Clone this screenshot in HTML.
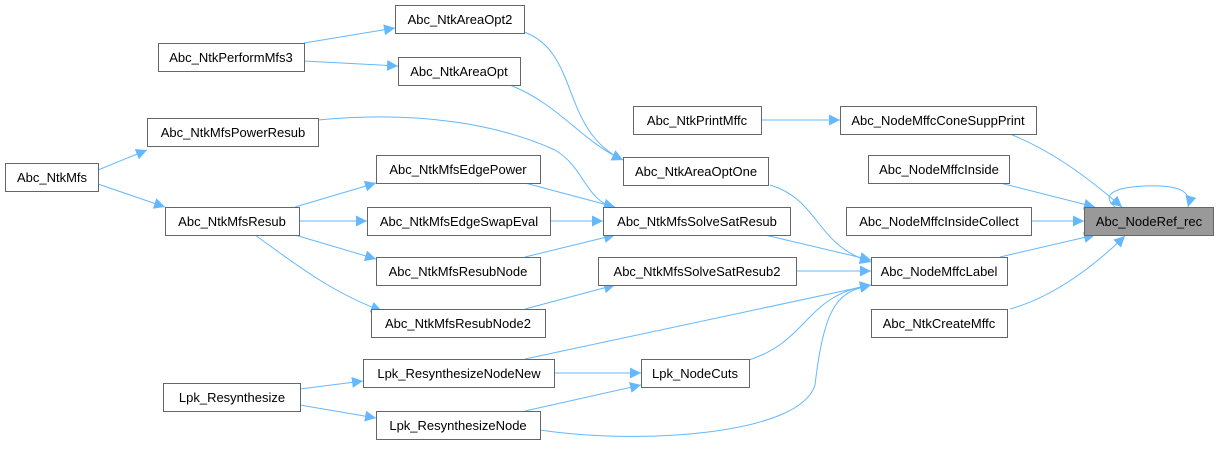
<!DOCTYPE html>
<html><head><meta charset="utf-8"><style>
html,body{margin:0;padding:0;background:#fff}
svg{display:block}
text{font-family:"Liberation Sans",Arial,sans-serif;font-size:13px;fill:#000}
.b{fill:#fff;stroke:#666;stroke-width:1}
.e{fill:none;stroke:#63b8ff;stroke-width:1}
</style></head><body>
<svg width="1218" height="450" viewBox="0 0 1218 450" xmlns="http://www.w3.org/2000/svg">
<defs><marker id="a" viewBox="0 0 10 10" refX="10" refY="5" markerWidth="11" markerHeight="11" markerUnits="userSpaceOnUse" orient="auto"><path d="M0,0L10,5L0,10z" fill="#63b8ff"/></marker></defs>
<g class="edges">
<path class="e" marker-end="url(#a)" d="M304,43L395,28"/>
<path class="e" marker-end="url(#a)" d="M304,61L398,66"/>
<path class="e" marker-end="url(#a)" d="M524,32C580,52 560,130 623,160"/>
<path class="e" marker-end="url(#a)" d="M510,85C560,105 580,140 623,160"/>
<path class="e" marker-end="url(#a)" d="M98,170L147,150"/>
<path class="e" marker-end="url(#a)" d="M98,184L165,207"/>
<path class="e" marker-end="url(#a)" d="M318,120C420,110 500,125 555,150C585,168 585,200 615,208"/>
<path class="e" marker-end="url(#a)" d="M295,207L376,183"/>
<path class="e" marker-end="url(#a)" d="M299,221L367,221"/>
<path class="e" marker-end="url(#a)" d="M295,235L376,259"/>
<path class="e" marker-end="url(#a)" d="M255,235C290,260 330,292 382,311"/>
<path class="e" marker-end="url(#a)" d="M525,183L615,207"/>
<path class="e" marker-end="url(#a)" d="M550,221L603,221"/>
<path class="e" marker-end="url(#a)" d="M525,257L615,235"/>
<path class="e" marker-end="url(#a)" d="M525,309L615,285"/>
<path class="e" marker-end="url(#a)" d="M761,120L840,120"/>
<path class="e" marker-end="url(#a)" d="M770,185C820,200 815,245 871,262"/>
<path class="e" marker-end="url(#a)" d="M765,235L871,260"/>
<path class="e" marker-end="url(#a)" d="M796,271L871,271"/>
<path class="e" marker-end="url(#a)" d="M525,359L871,285"/>
<path class="e" marker-end="url(#a)" d="M749,360C810,340 805,295 871,285"/>
<path class="e" marker-end="url(#a)" d="M540,430C640,445 800,435 815,385C825,300 840,292 871,285"/>
<path class="e" marker-end="url(#a)" d="M300,389L363,381"/>
<path class="e" marker-end="url(#a)" d="M300,405L376,418"/>
<path class="e" marker-end="url(#a)" d="M554,373L641,373"/>
<path class="e" marker-end="url(#a)" d="M525,411L641,385"/>
<path class="e" marker-end="url(#a)" d="M1010,134C1050,150 1085,175 1122,207"/>
<path class="e" marker-end="url(#a)" d="M1000,183L1095,207"/>
<path class="e" marker-end="url(#a)" d="M1031,221L1084,221"/>
<path class="e" marker-end="url(#a)" d="M1000,257L1095,235"/>
<path class="e" marker-end="url(#a)" d="M1010,309C1050,298 1090,270 1125,236"/>
<path class="e" marker-end="url(#a)" d="M1115,207C1095,190 1130,185 1160,186C1180,187 1192,192 1188,207"/>
</g>
<g>
<rect class="b" x="1084.5" y="207.5" width="129" height="28" style="fill:#999"/><text x="1149" y="226" text-anchor="middle">Abc_NodeRef_rec</text>
<rect class="b" x="840.5" y="106.5" width="196" height="28"/><text x="938" y="125" text-anchor="middle">Abc_NodeMffcConeSuppPrint</text>
<rect class="b" x="868.5" y="155.5" width="141" height="28"/><text x="939" y="174" text-anchor="middle">Abc_NodeMffcInside</text>
<rect class="b" x="846.5" y="207.5" width="185" height="28"/><text x="939" y="226" text-anchor="middle">Abc_NodeMffcInsideCollect</text>
<rect class="b" x="871.5" y="257.5" width="136" height="28"/><text x="939" y="276" text-anchor="middle">Abc_NodeMffcLabel</text>
<rect class="b" x="871.5" y="309.5" width="136" height="28"/><text x="939" y="328" text-anchor="middle">Abc_NtkCreateMffc</text>
<rect class="b" x="633.5" y="106.5" width="128" height="28"/><text x="697" y="125" text-anchor="middle">Abc_NtkPrintMffc</text>
<rect class="b" x="395.5" y="5.5" width="129" height="28"/><text x="460" y="24" text-anchor="middle">Abc_NtkAreaOpt2</text>
<rect class="b" x="398.5" y="57.5" width="122" height="28"/><text x="459" y="76" text-anchor="middle">Abc_NtkAreaOpt</text>
<rect class="b" x="158.5" y="43.5" width="146" height="28"/><text x="231" y="62" text-anchor="middle">Abc_NtkPerformMfs3</text>
<rect class="b" x="147.5" y="118.5" width="171" height="28"/><text x="233" y="137" text-anchor="middle">Abc_NtkMfsPowerResub</text>
<rect class="b" x="623.5" y="157.5" width="145" height="28"/><text x="696" y="176" text-anchor="middle">Abc_NtkAreaOptOne</text>
<rect class="b" x="5.5" y="163.5" width="93" height="28"/><text x="52" y="182" text-anchor="middle">Abc_NtkMfs</text>
<rect class="b" x="376.5" y="155.5" width="164" height="28"/><text x="458" y="174" text-anchor="middle">Abc_NtkMfsEdgePower</text>
<rect class="b" x="165.5" y="207.5" width="134" height="28"/><text x="232" y="226" text-anchor="middle">Abc_NtkMfsResub</text>
<rect class="b" x="367.5" y="207.5" width="183" height="28"/><text x="459" y="226" text-anchor="middle">Abc_NtkMfsEdgeSwapEval</text>
<rect class="b" x="603.5" y="207.5" width="187" height="28"/><text x="697" y="226" text-anchor="middle">Abc_NtkMfsSolveSatResub</text>
<rect class="b" x="376.5" y="257.5" width="164" height="28"/><text x="458" y="276" text-anchor="middle">Abc_NtkMfsResubNode</text>
<rect class="b" x="598.5" y="257.5" width="198" height="28"/><text x="697" y="276" text-anchor="middle">Abc_NtkMfsSolveSatResub2</text>
<rect class="b" x="371.5" y="309.5" width="174" height="28"/><text x="458" y="328" text-anchor="middle">Abc_NtkMfsResubNode2</text>
<rect class="b" x="363.5" y="359.5" width="191" height="28"/><text x="459" y="378" text-anchor="middle">Lpk_ResynthesizeNodeNew</text>
<rect class="b" x="641.5" y="359.5" width="108" height="28"/><text x="695" y="378" text-anchor="middle">Lpk_NodeCuts</text>
<rect class="b" x="163.5" y="383.5" width="137" height="28"/><text x="232" y="402" text-anchor="middle">Lpk_Resynthesize</text>
<rect class="b" x="376.5" y="411.5" width="164" height="28"/><text x="458" y="430" text-anchor="middle">Lpk_ResynthesizeNode</text>
</g>
</svg>
</body></html>
